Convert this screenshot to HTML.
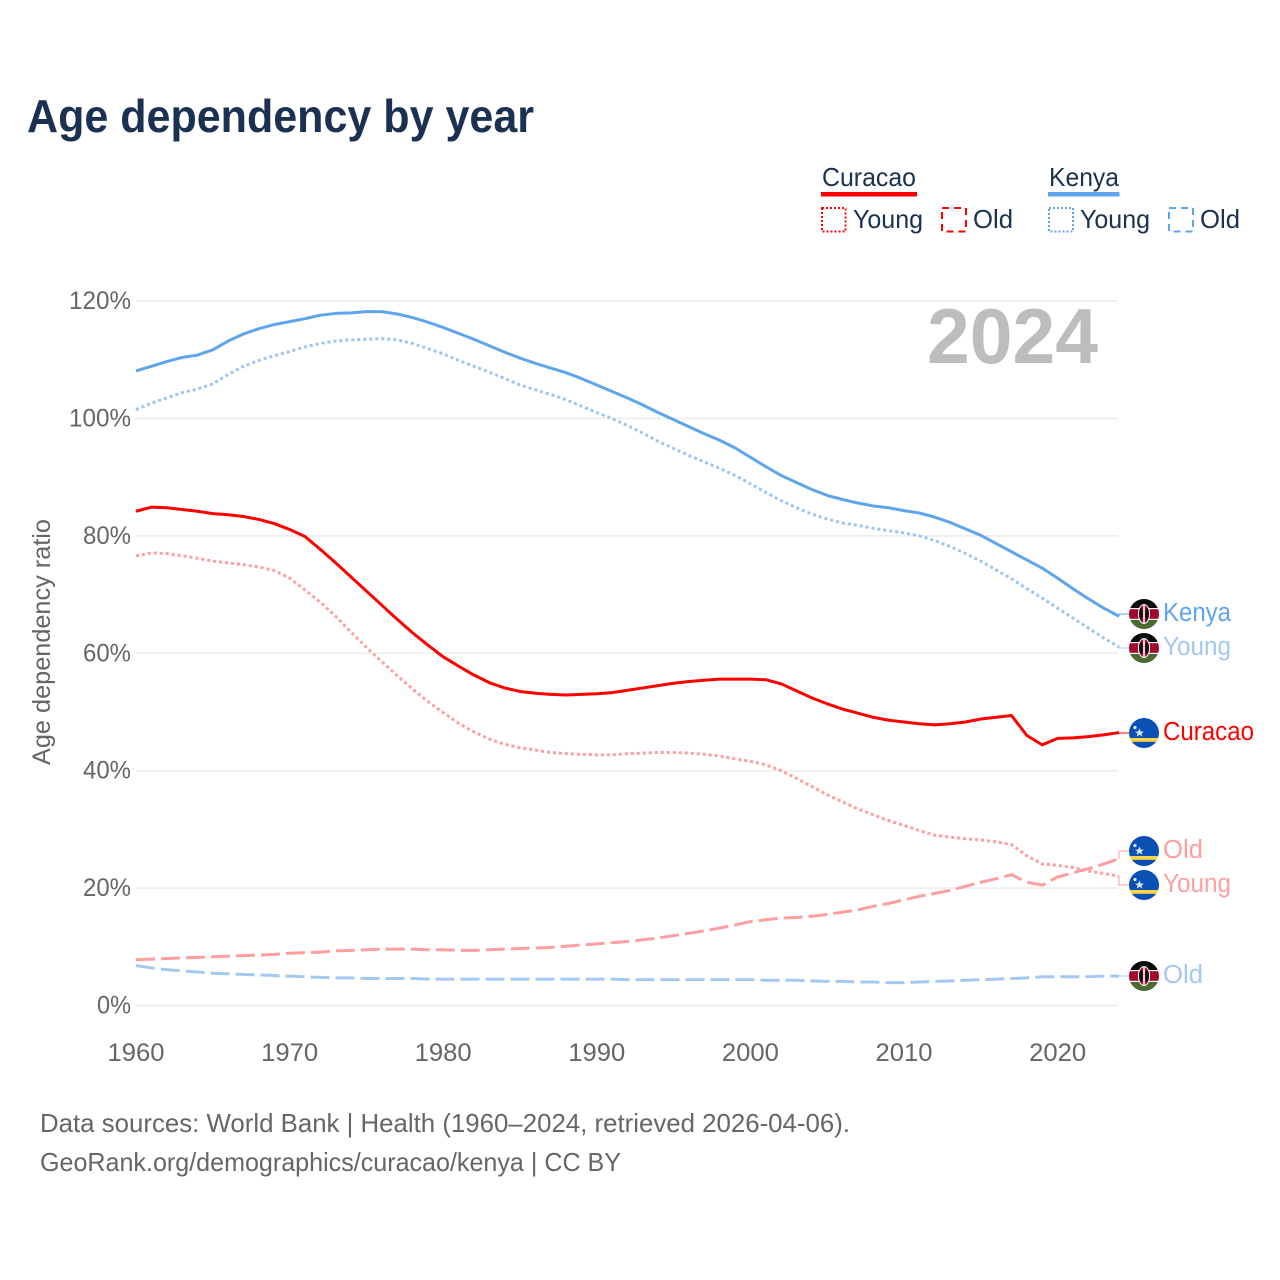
<!DOCTYPE html>
<html lang="en">
<head>
<meta charset="utf-8">
<title>Age dependency by year</title>
<style>
html,body{margin:0;padding:0;background:#fff;}
svg{display:block;font-family:"Liberation Sans",sans-serif;}
</style>
</head>
<body>
<svg id="chart" xmlns="http://www.w3.org/2000/svg" width="1280" height="1280" viewBox="0 0 1280 1280">
  <defs><clipPath id="flagClip"><circle cx="0" cy="0" r="15"/></clipPath></defs>
  <rect x="0" y="0" width="1280" height="1280" fill="#ffffff"/>
  <text x="27" y="132" font-size="46" font-weight="700" fill="#1a3152" textLength="507" lengthAdjust="spacingAndGlyphs">Age dependency by year</text>

  <g font-size="26" fill="#1a3152">
    <text x="822" y="186" textLength="94" lengthAdjust="spacingAndGlyphs">Curacao</text>
    <rect x="821" y="192" width="96" height="4.5" fill="#ff0000"/>
    <rect x="822" y="208" width="23.5" height="23.5" fill="none" stroke="#ff0000" stroke-width="2" stroke-dasharray="2 2"/>
    <text x="853" y="228" textLength="70" lengthAdjust="spacingAndGlyphs">Young</text>
    <rect x="942" y="208" width="24" height="23.5" fill="none" stroke="#ff0000" stroke-width="2" stroke-dasharray="7 5"/>
    <text x="973" y="228" textLength="40" lengthAdjust="spacingAndGlyphs">Old</text>
    <text x="1049" y="186" textLength="70" lengthAdjust="spacingAndGlyphs">Kenya</text>
    <rect x="1048" y="192" width="71.5" height="4.5" fill="#5fa5ee"/>
    <rect x="1049" y="208" width="24" height="23.5" fill="none" stroke="#5fa5ee" stroke-width="2" stroke-dasharray="2 2"/>
    <text x="1080" y="228" textLength="70" lengthAdjust="spacingAndGlyphs">Young</text>
    <rect x="1169" y="208" width="24" height="23.5" fill="none" stroke="#5fa5ee" stroke-width="2" stroke-dasharray="7 5"/>
    <text x="1200" y="228" textLength="40" lengthAdjust="spacingAndGlyphs">Old</text>
  </g>

  <g id="grid"></g>
  <g id="yticks"></g>
  <g id="xticks"></g>
  <text transform="translate(50,642) rotate(-90)" text-anchor="middle" font-size="25" fill="#666666" textLength="246" lengthAdjust="spacingAndGlyphs">Age dependency ratio</text>
  <text x="927" y="363" font-size="78" font-weight="700" fill="#bdbdbd" textLength="171" lengthAdjust="spacingAndGlyphs">2024</text>
  <g id="series"></g>
  <g id="endlabels"></g>

  <text x="40" y="1132" font-size="26" fill="#666666" textLength="810" lengthAdjust="spacingAndGlyphs">Data sources: World Bank | Health (1960–2024, retrieved 2026-04-06).</text>
  <text x="40" y="1171" font-size="26" fill="#666666" textLength="581" lengthAdjust="spacingAndGlyphs">GeoRank.org/demographics/curacao/kenya | CC BY</text>
</svg>
<script>
const startYear = 1960;
const yTickValues = [0, 20, 40, 60, 80, 100, 120];
const xTickValues = [1960, 1970, 1980, 1990, 2000, 2010, 2020];

const kenyaTotal = [108.1,108.9,109.7,110.4,110.8,111.7,113.2,114.4,115.3,116.0,116.5,117.0,117.6,117.9,118.0,118.2,118.2,117.8,117.2,116.4,115.5,114.5,113.5,112.4,111.3,110.3,109.4,108.6,107.8,106.8,105.7,104.6,103.5,102.3,101.0,99.8,98.6,97.4,96.3,95.0,93.4,91.8,90.3,89.1,87.9,86.9,86.2,85.6,85.1,84.8,84.3,83.9,83.2,82.3,81.2,80.1,78.7,77.3,75.9,74.5,72.8,71.0,69.3,67.7,66.3];
const kenyaYoung = [101.5,102.6,103.5,104.4,105.0,105.9,107.5,108.9,109.9,110.7,111.4,112.2,112.8,113.2,113.4,113.5,113.6,113.4,112.8,111.9,111.0,109.9,108.9,107.9,106.8,105.7,104.9,104.1,103.2,102.1,101.0,100.0,98.8,97.5,96.1,94.9,93.7,92.6,91.5,90.3,88.9,87.4,86.0,84.8,83.7,82.9,82.2,81.8,81.3,80.9,80.5,80.0,79.2,78.2,77.0,75.7,74.2,72.7,71.0,69.4,67.7,66.0,64.3,62.6,61.1];
const kenyaOld = [6.8,6.4,6.1,5.9,5.7,5.5,5.4,5.3,5.2,5.1,5.0,4.9,4.8,4.7,4.7,4.6,4.6,4.6,4.6,4.5,4.5,4.5,4.5,4.5,4.5,4.5,4.5,4.5,4.5,4.5,4.5,4.5,4.4,4.4,4.4,4.4,4.4,4.4,4.4,4.4,4.4,4.3,4.3,4.3,4.2,4.1,4.1,4.0,4.0,3.9,3.9,4.0,4.1,4.2,4.3,4.4,4.5,4.6,4.7,4.9,4.9,4.9,4.9,5.0,5.0];
const curacaoTotal = [84.2,84.9,84.8,84.5,84.2,83.8,83.6,83.3,82.8,82.1,81.1,79.9,77.7,75.4,73.0,70.6,68.2,65.8,63.5,61.4,59.4,57.8,56.3,55.0,54.1,53.5,53.2,53.0,52.9,53.0,53.1,53.3,53.7,54.1,54.5,54.9,55.2,55.4,55.6,55.6,55.6,55.5,54.8,53.6,52.4,51.4,50.5,49.8,49.1,48.6,48.3,48.0,47.8,48.0,48.3,48.8,49.1,49.4,46.0,44.4,45.5,45.6,45.8,46.1,46.5];
const curacaoYoung = [76.6,77.1,77.0,76.6,76.2,75.7,75.4,75.1,74.7,74.1,72.8,70.8,68.7,66.3,63.6,61.0,58.6,56.2,53.9,51.8,49.9,48.1,46.6,45.4,44.5,43.9,43.5,43.1,42.9,42.8,42.7,42.7,42.9,43.0,43.1,43.1,43.0,42.8,42.5,42.0,41.6,41.0,40.0,38.7,37.3,35.9,34.7,33.5,32.5,31.5,30.7,29.8,29.0,28.7,28.4,28.2,27.9,27.4,25.5,24.1,23.9,23.5,22.9,22.5,22.0];
const curacaoOld = [7.8,7.9,8.0,8.1,8.2,8.3,8.4,8.5,8.6,8.7,8.9,9.0,9.1,9.3,9.4,9.5,9.6,9.6,9.6,9.5,9.5,9.4,9.4,9.5,9.6,9.7,9.8,9.9,10.1,10.3,10.5,10.7,10.9,11.2,11.5,11.9,12.3,12.7,13.2,13.7,14.3,14.6,14.9,15.0,15.2,15.5,15.9,16.3,16.9,17.4,18.0,18.6,19.1,19.6,20.3,21.0,21.6,22.3,21.0,20.5,21.9,22.6,23.3,24.1,25.0];

function xScale(year) { return 136 + (year - startYear) * 15.36; }
function yScale(value) { return 1005.5 - value * 5.87; }

const NS = 'http://www.w3.org/2000/svg';
function make(tag, attrs, parent) {
  const el = document.createElementNS(NS, tag);
  for (const k in attrs) el.setAttribute(k, attrs[k]);
  parent.appendChild(el);
  return el;
}

const gridG = document.getElementById('grid');
const yG = document.getElementById('yticks');
const xG = document.getElementById('xticks');
yTickValues.forEach(function (v) {
  const line = make('line', {x1: 136, x2: 1118, y1: yScale(v), y2: yScale(v), stroke: '#ebebeb', 'stroke-width': 1.5}, gridG);
  
  
  const label = v + '%';
  const t = make('text', {x: 131, y: yScale(v) + 8, 'text-anchor': 'end', 'font-size': 25, fill: '#666666', textLength: label.length * 14 + 6, lengthAdjust: 'spacingAndGlyphs'}, yG);
  t.textContent = label;
  
  
});
xTickValues.forEach(function (yr) {
  const t = make('text', {x: xScale(yr), y: 1061, 'text-anchor': 'middle', 'font-size': 25, fill: '#666666', textLength: 57, lengthAdjust: 'spacingAndGlyphs'}, xG);
  t.textContent = String(yr);
  
  
});

const FLAG_KE = '<rect x="-15" y="-15" width="30" height="30" fill="#fff"/><rect x="-15" y="-15" width="30" height="9" fill="#0a0a0a"/><rect x="-15" y="-4.8" width="30" height="9.6" fill="#a0082c"/><rect x="-15" y="6" width="30" height="9" fill="#4a6b30"/><ellipse cx="0" cy="0" rx="5.6" ry="9.5" fill="#a0082c" stroke="#fff" stroke-width="1"/><ellipse cx="-3" cy="0" rx="1.8" ry="6" fill="#111"/><ellipse cx="3" cy="0" rx="1.8" ry="6" fill="#111"/><rect x="-0.8" y="-9.5" width="1.6" height="19" fill="#fff"/>';
const FLAG_CW = '<rect x="-15" y="-15" width="30" height="30" fill="#0a50b4"/><rect x="-15" y="5" width="30" height="3.8" fill="#fcd34d"/><polygon points="-4.5,-4.5 -3.2,-1.4 0,-1.4 -2.6,0.6 -1.6,3.6 -4.5,1.8 -7.4,3.6 -6.4,0.6 -9,-1.4 -5.8,-1.4" fill="#dfe9f7"/><circle cx="-9" cy="-5.5" r="1.6" fill="#dfe9f7"/>';

function drawSeries(name, values, color, width, dash) {
  const d = values.map(function (v, i) {
    return (i ? 'L' : 'M') + xScale(startYear + i).toFixed(2) + ' ' + yScale(v).toFixed(2);
  }).join(' ');
  const attrs = {d: d, fill: 'none', stroke: color, 'stroke-width': width, 'stroke-linejoin': 'round'};
  if (dash) attrs['stroke-dasharray'] = dash;
  const p = make('path', attrs, document.getElementById('series'));
  
  
}

drawSeries('curacao-old-line', curacaoOld, '#ff9e9e', 3, '19 6');
drawSeries('kenya-old-line', kenyaOld, '#a3c9f3', 3, '19 6');
drawSeries('curacao-young-line', curacaoYoung, '#ff9e9e', 3, '3 3');
drawSeries('kenya-young-line', kenyaYoung, '#9cc5f3', 3, '3 3');
drawSeries('curacao-total-line', curacaoTotal, '#ff0000', 3, '');
drawSeries('kenya-total-line', kenyaTotal, '#5fa5ee', 3, '');

function drawEndLabel(name, text, last, labelY, flag, color, textLen) {
  const g = make('g', {}, document.getElementById('endlabels'));
  
  
  const yEnd = yScale(last);
  const conn = make('path', {d: 'M1119 ' + yEnd.toFixed(1) + ' L1119 ' + labelY + ' L1130 ' + labelY, fill: 'none', stroke: color, 'stroke-width': 1}, g);
  
  
  const f = make('g', {transform: 'translate(1144 ' + labelY + ')'}, g);
  
  
  const inner = make('g', {'clip-path': 'url(#flagClip)'}, f);
  inner.innerHTML = flag;
  const t = make('text', {x: 1163, y: labelY + 7, 'font-size': 25.5, fill: color, textLength: textLen, lengthAdjust: 'spacingAndGlyphs'}, g);
  t.textContent = text;
  
  
}

drawEndLabel('kenya-total-label', 'Kenya', kenyaTotal[kenyaTotal.length - 1], 614, FLAG_KE, '#5fa5ee', 68);
drawEndLabel('kenya-young-label', 'Young', kenyaYoung[kenyaYoung.length - 1], 648, FLAG_KE, '#a3c9f3', 68);
drawEndLabel('curacao-total-label', 'Curacao', curacaoTotal[curacaoTotal.length - 1], 733, FLAG_CW, '#ff0000', 91);
drawEndLabel('curacao-old-label', 'Old', curacaoOld[curacaoOld.length - 1], 851, FLAG_CW, '#ff9e9e', 40);
drawEndLabel('curacao-young-label', 'Young', curacaoYoung[curacaoYoung.length - 1], 885, FLAG_CW, '#ff9e9e', 68);
drawEndLabel('kenya-old-label', 'Old', kenyaOld[kenyaOld.length - 1], 976, FLAG_KE, '#a3c9f3', 40);
</script>
</body>
</html>
